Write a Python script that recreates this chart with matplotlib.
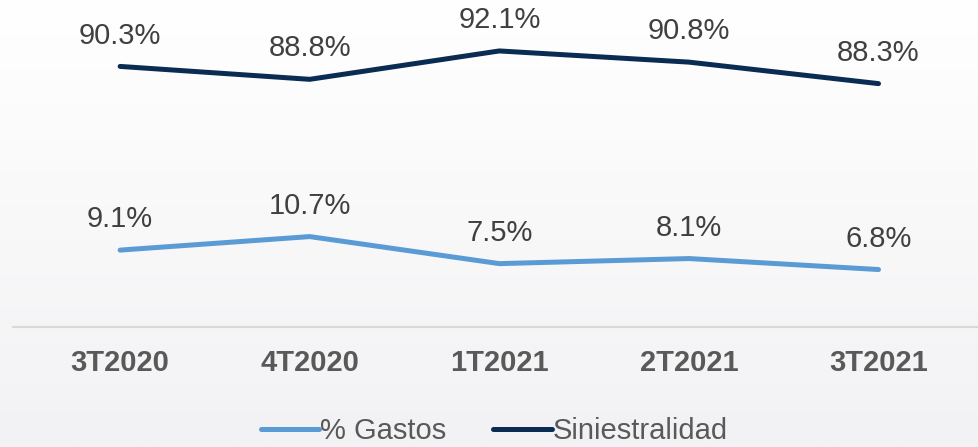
import numpy as np
import matplotlib.pyplot as plt

# quarters and ratios (%)
quarters = ['3T2020', '4T2020', '1T2021', '2T2021', '3T2021']
gastos = [9.1, 10.7, 7.5, 8.1, 6.8]
siniestralidad = [90.3, 88.8, 92.1, 90.8, 88.3]

light_blue = '#5b9bd5'
navy = '#0a2c52'

plt.rcParams['font.family'] = ['Liberation Sans', 'DejaVu Sans']

fig = plt.figure(figsize=(9.79, 4.47), dpi=100)

# soft vertical gradient background
bg = fig.add_axes([0, 0, 1, 1], zorder=-10)
grad = np.linspace(0, 1, 256).reshape(-1, 1)
top = np.array([1.0, 1.0, 1.0])
bot = np.array([0xf2, 0xf2, 0xf4]) / 255
img = top + (bot - top) * grad[..., None]
bg.imshow(img, aspect='auto', extent=[0, 1, 0, 1], origin='upper')
bg.axis('off')

ax = fig.add_axes([13 / 979, 120 / 447, 966 / 979, 312 / 447])
ax.patch.set_alpha(0)
ax2 = ax.twinx()

x = np.arange(len(quarters))
l1, = ax.plot(x, gastos, color=light_blue, lw=3.6, solid_capstyle='round',
              label='% Gastos')
l2, = ax2.plot(x, siniestralidad, color=navy, lw=3.6, solid_capstyle='round',
               label='Siniestralidad')

ax.set_ylim(0, 312 / 8.45)
ax2.set_ylim(60, 60 + 312 / 8.6)
ax.set_xlim(-0.565, 4.53)

for a in (ax, ax2):
    for s in a.spines.values():
        s.set_visible(False)
    a.set_yticks([])
ax.spines['bottom'].set_visible(True)
ax.spines['bottom'].set_color('#d9d9d9')
ax.spines['bottom'].set_linewidth(1.5)

ax.set_xticks(x)
ax.set_xticklabels(quarters, fontsize=21, fontweight='bold', color='#595959')
ax.tick_params(axis='x', length=0, pad=16)

for xi, v in zip(x, gastos):
    ax.annotate(f'{v:.1f}%', (xi, v), xytext=(0, 16.5), textcoords='offset points',
                ha='center', va='baseline', fontsize=21, color='#404040')
for xi, v in zip(x, siniestralidad):
    ax2.annotate(f'{v:.1f}%', (xi, v), xytext=(0, 16.5), textcoords='offset points',
                 ha='center', va='baseline', fontsize=21, color='#404040')

leg = fig.legend(handles=[l1, l2], loc='center', bbox_to_anchor=(0.505, 16 / 447),
                 ncol=2, frameon=False, fontsize=21, handlelength=2.0, handletextpad=0.05,
                 columnspacing=1.6, labelcolor='#595959', borderaxespad=0)

fig.savefig('out.png', dpi=100)
